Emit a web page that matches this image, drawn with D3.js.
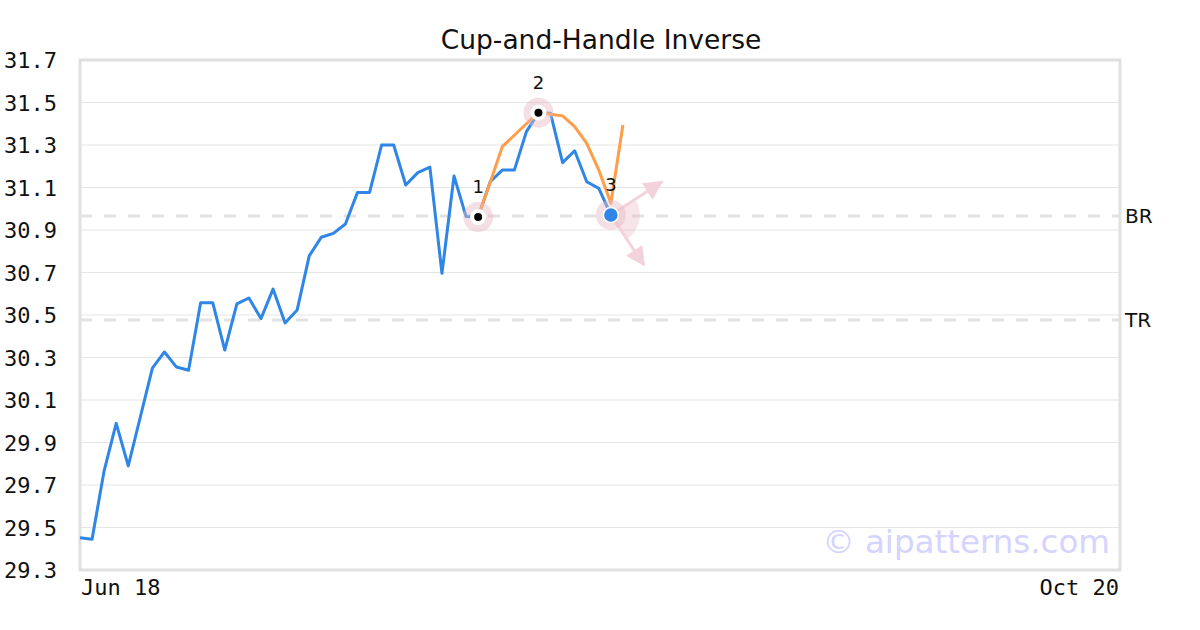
<!DOCTYPE html>
<html><head><meta charset="utf-8">
<script src="https://cdn.jsdelivr.net/npm/d3@7"></script>
<style>body{margin:0;background:#fff}svg{display:block}</style>
</head><body>
<svg id="c" width="1200" height="630"></svg>
<script>
const title = "Cup-and-Handle Inverse";
const xTickLabels = ["Jun 18", "Oct 20"];
const xDomainMax = 86.2;
const yTicks = [29.3, 29.5, 29.7, 29.9, 30.1, 30.3, 30.5, 30.7, 30.9, 31.1, 31.3, 31.5, 31.7];
const priceValues = [29.452, 29.445, 29.767, 29.99, 29.79, 30.02, 30.25, 30.326, 30.255, 30.24,
  30.558, 30.558, 30.335, 30.552, 30.58, 30.483, 30.622, 30.462, 30.524, 30.778,
  30.866, 30.884, 30.928, 31.077, 31.077, 31.3, 31.3, 31.112, 31.17, 31.196,
  30.696, 31.154, 30.963, 30.961, 31.127, 31.182, 31.182, 31.363, 31.452, 31.449,
  31.217, 31.273, 31.127, 31.096, 30.971];
const patternStart = 33;
const patternValues = [30.963, 31.125, 31.292, 31.346, 31.4, 31.452, 31.445, 31.437, 31.386, 31.308, 31.182, 31.026, 31.394];
const keyPointIdx = [33, 38, 44];
const keyPointLabels = ["1", "2", "3"];
const levelNames = ["BR", "TR"];
const levelValues = [30.966, 30.476];
const watermark = "© aipatterns.com";

const svg = d3.select("#c");
const L = 80, R = 1120, T = 60, B = 570;
const x = d3.scaleLinear().domain([0, xDomainMax]).range([L, R]);
const y = d3.scaleLinear().domain([29.3, 31.7]).range([B, T]);

// title
svg.append("text").attr("x", 601).attr("y", 49).attr("text-anchor", "middle")
  .attr("font-family", "DejaVu Sans").attr("font-size", 26.5).attr("fill", "#111").text(title);

// grid
svg.append("g").selectAll("line").data(yTicks.slice(1, -1)).join("line")
  .attr("x1", L).attr("x2", R).attr("y1", d => y(d)).attr("y2", d => y(d))
  .attr("stroke", "#e6e6e6").attr("stroke-width", 1.2);

// y labels
const yAxis = d3.axisLeft(y).tickValues(yTicks).tickFormat(d3.format(".1f")).tickSize(0).tickPadding(0);
const ya = svg.append("g").attr("transform", `translate(57,0)`).call(yAxis);
ya.select(".domain").remove();
ya.selectAll("text").attr("font-family", "DejaVu Sans Mono").attr("font-size", 22).attr("fill", "#111").attr("dy", "0.36em");

// x labels
svg.append("text").attr("x", x(0) + 1).attr("y", 595).attr("font-family", "DejaVu Sans Mono").attr("font-size", 22).attr("fill", "#111").text(xTickLabels[0]);
svg.append("text").attr("x", R - 1).attr("y", 595).attr("text-anchor", "end").attr("font-family", "DejaVu Sans Mono").attr("font-size", 22).attr("fill", "#111").text(xTickLabels[1]);

// level lines
levelValues.forEach((v, i) => {
  svg.append("line").attr("x1", L).attr("x2", R).attr("y1", y(v)).attr("y2", y(v))
    .attr("stroke", "#e2e2e2").attr("stroke-width", 3).attr("stroke-dasharray", "12,12");
  svg.append("text").attr("x", 1125).attr("y", y(v)).attr("dy", "0.36em")
    .attr("font-family", "DejaVu Sans").attr("font-size", 20).attr("fill", "#111").text(levelNames[i]);
});

// watermark
svg.append("text").attr("x", 1110).attr("y", 553).attr("text-anchor", "end")
  .attr("font-family", "DejaVu Sans").attr("font-size", 32.5).attr("fill", "#d4d4ff").text(watermark);

// frame
svg.append("rect").attr("x", L).attr("y", T).attr("width", R - L).attr("height", B - T)
  .attr("fill", "none").attr("stroke", "#e0e0e0").attr("stroke-width", 3);

// price line
const line = d3.line().x((d, i) => x(i)).y(d => y(d));
svg.append("path").datum(priceValues).attr("d", line).attr("fill", "none")
  .attr("stroke", "#2f86e6").attr("stroke-width", 3).attr("stroke-linejoin", "round");

// pattern line
const pline = d3.line().x((d, i) => x(patternStart + i)).y(d => y(d));
svg.append("path").datum(patternValues).attr("d", pline).attr("fill", "none")
  .attr("stroke", "#ff9d48").attr("stroke-width", 3).attr("stroke-linejoin", "round");

// arrows & sector at point 3
const defs = svg.append("defs");
defs.append("marker").attr("id", "ah").attr("viewBox", "0 0 10 10").attr("refX", 9).attr("refY", 5)
  .attr("markerWidth", 6.5).attr("markerHeight", 6.5).attr("markerUnits", "strokeWidth").attr("orient", "auto")
  .append("path").attr("d", "M0,0L10,5L0,10Z").attr("fill", "#f4d2db");
const p3x = x(keyPointIdx[2]), p3y = y(priceValues[keyPointIdx[2]]);
const a1 = Math.atan2(-33, 51), a2 = Math.atan2(50, 33);
const arcG = d3.arc().innerRadius(0).outerRadius(29)
  .startAngle(Math.PI / 2 + a1).endAngle(Math.PI / 2 + a2);
svg.append("path").attr("transform", `translate(${p3x},${p3y})`).attr("d", arcG())
  .attr("fill", "#e8b4c2").attr("opacity", 0.35);
[[51, -33], [33, 50]].forEach(([dx, dy]) => {
  svg.append("line").attr("x1", p3x).attr("y1", p3y).attr("x2", p3x + dx).attr("y2", p3y + dy)
    .attr("stroke", "#f4d2db").attr("stroke-width", 3).attr("marker-end", "url(#ah)");
});

// key point markers
keyPointIdx.forEach((idx, k) => {
  const cx = x(idx), cy = y(priceValues[idx]);
  svg.append("circle").attr("cx", cx).attr("cy", cy).attr("r", 15).attr("fill", "#e6b9c5").attr("opacity", 0.45);
  if (k < 2) {
    svg.append("circle").attr("cx", cx).attr("cy", cy).attr("r", 8).attr("fill", "#fff");
    svg.append("circle").attr("cx", cx).attr("cy", cy).attr("r", 4).attr("fill", "#000");
  } else {
    svg.append("circle").attr("cx", cx).attr("cy", cy).attr("r", 7.5).attr("fill", "#2f86e6").attr("stroke", "#fff").attr("stroke-width", 1.5);
  }
  svg.append("text").attr("x", cx).attr("y", cy - 24).attr("text-anchor", "middle")
    .attr("font-family", "DejaVu Sans").attr("font-size", 18).attr("fill", "#111").text(keyPointLabels[k]);
});
</script>
</body></html>
